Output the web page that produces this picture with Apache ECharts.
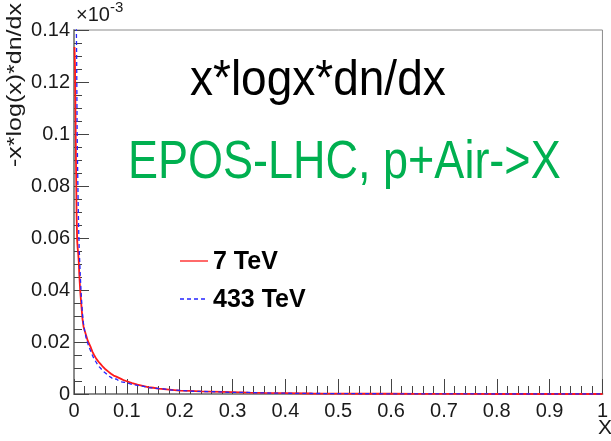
<!DOCTYPE html>
<html>
<head>
<meta charset="utf-8">
<script src="https://cdn.jsdelivr.net/npm/echarts@6/dist/echarts.min.js"></script>
<style>
  html, body { margin: 0; padding: 0; background: #fff; }
  #chart { width: 611px; height: 441px; }
</style>
</head>
<body>
<div id="chart"></div>
<script>
// x positions of the sampled histogram bins
const xBins = [0.001, 0.002, 0.003, 0.004, 0.005, 0.006, 0.007, 0.008, 0.009, 0.010,
  0.012, 0.014, 0.016, 0.018, 0.020, 0.023, 0.026, 0.029, 0.032, 0.035,
  0.038, 0.042, 0.046, 0.050, 0.055, 0.060, 0.065, 0.070, 0.075, 0.080,
  0.085, 0.090, 0.095, 0.100, 0.110, 0.120, 0.130, 0.140, 0.150, 0.160,
  0.170, 0.180, 0.190, 0.200, 0.220, 0.240, 0.260, 0.280, 0.300, 0.330,
  0.360, 0.400, 0.450, 0.500, 0.550, 0.600, 0.650, 0.700, 0.750, 0.800,
  0.850, 0.900, 0.950, 1.000];

// 7 TeV
const red7TeV = [0.1335, 0.125, 0.105, 0.085, 0.068, 0.059, 0.056, 0.054, 0.051, 0.046,
  0.039, 0.034, 0.029, 0.026, 0.0245, 0.0225, 0.0205, 0.0192, 0.0178, 0.0162,
  0.0150, 0.0136, 0.0125, 0.0116, 0.0104, 0.0094, 0.0086, 0.0078, 0.0071, 0.0067,
  0.0062, 0.0057, 0.0052, 0.0049, 0.0042, 0.0036, 0.0031, 0.0026, 0.0024, 0.0021,
  0.0019, 0.0017, 0.0015, 0.0013, 0.0012, 0.0010, 0.0009, 0.0008, 0.0007, 0.0005,
  0.0004, 0.0003, 0.0002, 0.00015, 0.0001, 0.0001, 0.00008, 0.00006, 0.00004, 0,
  0, 0, 0, 0];

// 433 TeV
const blue433TeV = [0.16, 0.155, 0.152, 0.15, 0.13, 0.10, 0.085, 0.072, 0.062, 0.055,
  0.045, 0.037, 0.031, 0.027, 0.0245, 0.0215, 0.0195, 0.0178, 0.0163, 0.0148,
  0.0135, 0.0122, 0.0108, 0.0100, 0.0088, 0.0080, 0.0070, 0.0064, 0.0056, 0.0058,
  0.0050, 0.0047, 0.0045, 0.0043, 0.0037, 0.0033, 0.0030, 0.0025, 0.0023, 0.0021,
  0.0020, 0.0016, 0.0015, 0.0014, 0.0011, 0.0010, 0.0009, 0.0008, 0.0006, 0.0006,
  0.0004, 0.0003, 0.0002, 0.00015, 0.0001, 0.00008, 0.00006, 0.00005, 0.00003, 0,
  0, 0, 0, 0];

const seriesNames = ['7 TeV', '433 TeV'];
const seriesColors = ['#ff1a1a', '#2424ff'];

const chart = echarts.init(document.getElementById('chart'));

function pairs(ys) {
  return xBins.map((x, i) => [x, ys[i]]);
}

const axisFont = { fontFamily: 'Liberation Sans', fontSize: 20, color: '#1a1a1a' };

// legend drawn by hand: short line + bold label
function legendItem(i, y, dash) {
  return [
    {
      type: 'line', shape: { x1: 180, y1: y, x2: 208, y2: y },
      style: { stroke: seriesColors[i], lineWidth: 1.3, lineDash: dash }
    },
    {
      type: 'text', x: 213, y: y + 1,
      style: { text: seriesNames[i], font: 'bold 25px "Liberation Sans"', fill: '#000', verticalAlign: 'middle' }
    }
  ];
}

const option = {
  animation: false,
  grid: {
    left: 74, right: 2, top: 30, bottom: 47,
    show: true, borderColor: '#8c8c8c', borderWidth: 1
  },
  xAxis: {
    type: 'value', min: 0, max: 1, interval: 0.1,
    axisLine: { lineStyle: { color: '#8c8c8c', width: 2 } },
    axisTick: { inside: true, length: 15, lineStyle: { color: '#444', width: 1 } },
    minorTick: { show: true, splitNumber: 5, length: 8, lineStyle: { color: '#444', width: 1 } },
    splitLine: { show: false },
    axisLabel: Object.assign({ margin: 7 }, axisFont)
  },
  yAxis: {
    type: 'value', min: 0, max: 0.14, interval: 0.02,
    axisLine: { show: true, lineStyle: { color: '#8c8c8c', width: 2 } },
    axisTick: { show: true, inside: true, length: 15, lineStyle: { color: '#444', width: 1 } },
    minorTick: { show: true, splitNumber: 4, length: 8, lineStyle: { color: '#444', width: 1 } },
    splitLine: { show: false },
    axisLabel: Object.assign({ margin: 4 }, axisFont)
  },
  series: [
    {
      name: seriesNames[0], type: 'line', data: pairs(red7TeV),
      showSymbol: false, symbol: 'none', clip: true,
      lineStyle: { color: seriesColors[0], width: 1.8 }, z: 3
    },
    {
      name: seriesNames[1], type: 'line', data: pairs(blue433TeV),
      showSymbol: false, symbol: 'none', clip: true,
      lineStyle: { color: seriesColors[1], width: 1.3, type: [4, 3] }, z: 4
    }
  ],
  graphic: [
    {
      type: 'text', left: 76, top: 5,
      style: { text: '\u00d710', font: '20px "Liberation Sans"', fill: '#1a1a1a' }
    },
    {
      type: 'text', left: 110, top: 0,
      style: { text: '-3', font: '15px "Liberation Sans"', fill: '#1a1a1a' }
    },
    {
      // y axis title, rotated
      type: 'text', x: 5, y: 167, rotation: Math.PI / 2,
      scaleX: 1.19,
      style: { text: '-x*log(x)*dn/dx', font: '21px "Liberation Sans"', fill: '#1a1a1a', verticalAlign: 'top', align: 'left' }
    },
    {
      type: 'text', x: 598, y: 418,
      style: { text: 'X', font: '21px "Liberation Sans"', fill: '#1a1a1a' }
    },
    {
      type: 'text', x: 190, y: 56, scaleY: 1.1,
      style: { text: 'x*logx*dn/dx', font: '46px "Liberation Sans"', fill: '#000' }
    },
    {
      type: 'text', x: 128, y: 136, scaleY: 1.2,
      style: { text: 'EPOS-LHC, p+Air->X', font: '45px "Liberation Sans"', fill: '#00b050' }
    }
  ].concat(legendItem(0, 261, null), legendItem(1, 299, [4, 3]))
};

chart.setOption(option);
</script>
</body>
</html>
